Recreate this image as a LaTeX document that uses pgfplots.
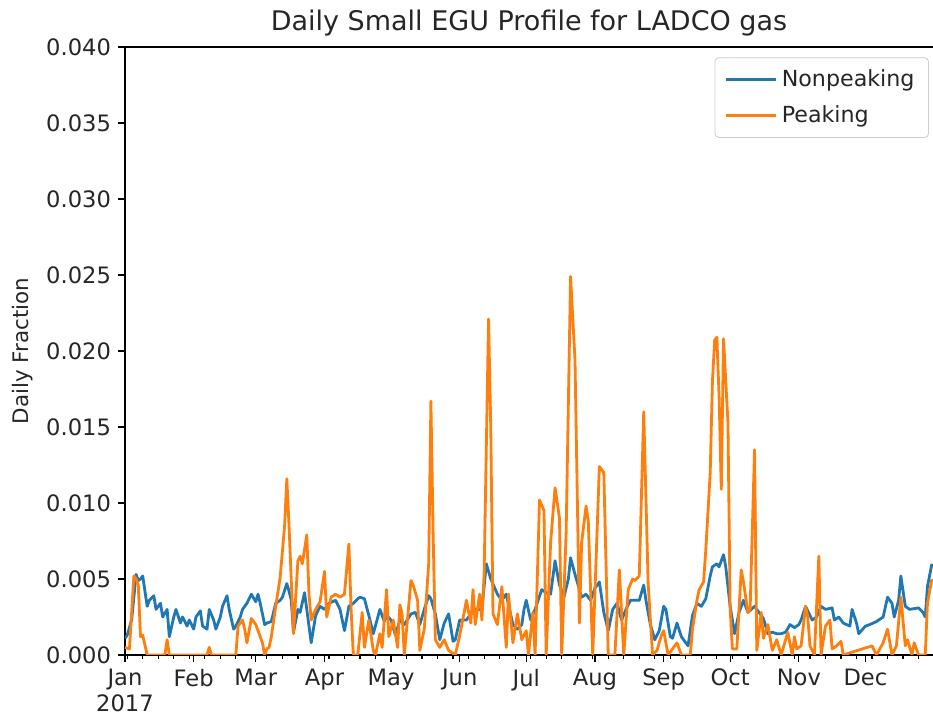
\documentclass[border=0pt]{standalone}
\usepackage{fontspec}
\setmainfont{DejaVu Sans}
\usepackage{pgfplots}
\usepackage{pgfplotstable}
\pgfplotsset{compat=1.18}

\definecolor{mplblue}{HTML}{1F77B4}
\definecolor{mplorange}{HTML}{FF7F0E}

% day of year (0 = Jan 1, 2017), daily fraction
\pgfplotstableread{
day val
0 0.0011
1 0.0013
3 0.0023
5 0.0053
6 0.0049
7 0.0050
8 0.0052
10 0.0032
11 0.0036
13 0.0039
14 0.0030
16 0.0034
17 0.0025
19 0.0030
20 0.0012
22 0.0025
23 0.0030
25 0.0021
26 0.0025
28 0.0019
29 0.0023
31 0.0017
32 0.0025
34 0.0029
35 0.0019
37 0.0017
38 0.0030
40 0.0023
41 0.0017
43 0.0025
44 0.0032
46 0.0039
47 0.0030
49 0.0017
50 0.0019
52 0.0025
53 0.0030
55 0.0034
57 0.0040
59 0.0035
60 0.0040
61 0.0034
63 0.0020
64 0.0021
66 0.0022
68 0.0034
70 0.0036
71 0.0038
73 0.0047
74 0.0042
75 0.0036
76 0.0015
78 0.0030
79 0.0028
81 0.0041
82 0.0030
84 0.0008
86 0.0026
88 0.0032
90 0.0030
92 0.0034
95 0.0036
97 0.0030
99 0.0016
101 0.0032
103 0.0034
105 0.0037
106 0.0038
108 0.0037
110 0.0026
112 0.0014
115 0.0030
117 0.0022
118 0.0026
120 0.0023
122 0.0013
124 0.0023
126 0.0020
129 0.0027
131 0.0028
133 0.0020
135 0.0030
137 0.0039
138 0.0037
140 0.0027
142 0.0010
144 0.0021
146 0.0027
148 0.0009
149 0.0010
151 0.0023
154 0.0023
156 0.0027
158 0.0030
161 0.0030
163 0.0060
165 0.0050
168 0.0040
170 0.0036
172 0.0040
173 0.0033
175 0.0020
177 0.0017
179 0.0020
180 0.0030
181 0.0036
183 0.0023
185 0.0030
188 0.0043
190 0.0041
192 0.0040
194 0.0062
196 0.0046
198 0.0038
200 0.0050
201 0.0064
203 0.0053
206 0.0038
208 0.0040
210 0.0036
212 0.0044
214 0.0048
216 0.0028
218 0.0016
220 0.0030
222 0.0034
224 0.0023
226 0.0030
228 0.0036
232 0.0036
234 0.0046
235 0.0036
237 0.0020
239 0.0010
241 0.0016
243 0.0032
244 0.0030
246 0.0012
247 0.0011
249 0.0021
251 0.0012
252 0.0010
254 0.0006
256 0.0026
258 0.0034
260 0.0032
262 0.0037
264 0.0052
265 0.0058
267 0.0060
268 0.0058
270 0.0066
271 0.0058
273 0.0032
275 0.0014
277 0.0028
279 0.0036
281 0.0028
284 0.0032
286 0.0028
288 0.0024
290 0.0014
292 0.0015
294 0.0014
296 0.0014
298 0.0015
300 0.0020
302 0.0018
304 0.0020
305 0.0023
307 0.0032
310 0.0023
312 0.0025
314 0.0032
316 0.0030
319 0.0031
320 0.0023
322 0.0025
324 0.0021
327 0.0019
328 0.0030
330 0.0021
331 0.0014
334 0.0019
336 0.0020
339 0.0022
342 0.0025
344 0.0038
346 0.0034
347 0.0025
349 0.0036
350 0.0052
352 0.0032
354 0.0030
358 0.0031
360 0.0028
361 0.0025
362 0.0045
364 0.0060
}\nonpeak

\pgfplotstableread{
day val
0 0.0005
2 0.0004
4 0.0052
5 0.0050
6 0.0046
7 0.0012
8 0.0013
10 0.0000
18 0.0000
19 0.0010
20 0.0000
37 0.0000
38 0.0005
39 0.0000
50 0.0000
51 0.0019
53 0.0023
54 0.0017
55 0.0008
57 0.0024
59 0.0020
61 0.0012
62 0.0008
63 0.0000
64 0.0004
65 0.0005
66 0.0012
68 0.0032
70 0.0051
72 0.0085
73 0.0116
74 0.0085
76 0.0014
78 0.0062
79 0.0065
80 0.0060
82 0.0079
83 0.0040
84 0.0023
86 0.0030
88 0.0035
90 0.0055
91 0.0025
93 0.0038
95 0.0040
97 0.0038
99 0.0040
101 0.0073
102 0.0030
103 0.0000
105 0.0000
107 0.0028
108 0.0005
110 0.0023
112 0.0003
113 0.0000
115 0.0014
116 0.0005
118 0.0043
119 0.0012
121 0.0023
123 0.0005
124 0.0033
125 0.0027
126 0.0000
129 0.0049
130 0.0046
132 0.0036
133 0.0003
135 0.0017
137 0.0060
138 0.0167
139 0.0080
140 0.0010
142 0.0005
144 0.0010
146 0.0003
149 0.0000
151 0.0013
153 0.0028
154 0.0036
156 0.0021
157 0.0043
158 0.0020
160 0.0040
161 0.0023
162 0.0053
164 0.0221
165 0.0150
166 0.0027
168 0.0020
170 0.0045
172 0.0005
173 0.0040
175 0.0008
177 0.0027
179 0.0010
181 0.0016
182 0.0000
184 0.0028
185 0.0000
187 0.0102
189 0.0095
190 0.0000
192 0.0074
194 0.0110
196 0.0090
197 0.0000
199 0.0080
201 0.0249
203 0.0194
205 0.0021
206 0.0074
208 0.0098
209 0.0088
211 0.0000
214 0.0124
216 0.0120
218 0.0000
221 0.0000
223 0.0056
225 0.0000
227 0.0043
229 0.0050
230 0.0049
232 0.0052
234 0.0160
236 0.0047
238 0.0000
240 0.0003
242 0.0013
243 0.0016
245 0.0000
248 0.0006
249 0.0008
251 0.0000
255 0.0000
256 0.0017
258 0.0036
259 0.0043
261 0.0048
262 0.0069
264 0.0120
265 0.0180
266 0.0207
267 0.0209
268 0.0170
269 0.0109
270 0.0208
272 0.0153
273 0.0030
274 0.0004
276 0.0004
278 0.0056
279 0.0048
281 0.0028
282 0.0030
284 0.0135
285 0.0003
287 0.0028
288 0.0011
290 0.0020
292 0.0003
294 0.0010
296 0.0000
299 0.0015
301 0.0000
302 0.0012
303 0.0004
305 0.0006
307 0.0032
308 0.0025
309 0.0006
311 0.0000
313 0.0065
314 0.0000
316 0.0019
318 0.0023
319 0.0004
321 0.0006
323 0.0009
324 0.0000
337 0.0006
339 0.0000
342 0.0008
344 0.0017
346 0.0000
348 0.0006
350 0.0038
352 0.0006
353 0.0010
355 0.0000
356 0.0008
358 0.0000
361 0.0000
362 0.0034
364 0.0050
}\peak

\begin{document}
\begin{tikzpicture}
\begin{axis}[
  scale only axis, width=404pt, height=304pt,
  xmin=0, xmax=364.5, ymin=0, ymax=0.04,
  axis y line*=left,
  xtick pos=left, ytick pos=left,
  tick align=outside,
  major tick length=3.5pt, minor tick length=2pt,
  every tick/.style={black, line width=0.6pt},
  axis line style={line width=0.6pt},
  xtick={0,31,59,90,120,151,181,212,243,273,304,334},
  xticklabels={{Jan\\2017},Feb,Mar,Apr,May,Jun,Jul,Aug,Sep,Oct,Nov,Dec},
  xticklabel style={align=center, font=\fontsize{11.3}{12.8}\selectfont, text=black!85},
  minor xtick={1,8,...,358},
  ytick={0,0.005,...,0.0401},
  scaled y ticks=false,
  yticklabel style={/pgf/number format/fixed, /pgf/number format/fixed zerofill,
    /pgf/number format/precision=3, /pgf/number format/assume math mode=true,
    font=\fontsize{11.3}{12.5}\selectfont, text=black!85},
  ylabel={Daily Fraction},
  ylabel style={font=\fontsize{10.7}{12}\selectfont, text=black!85},
  title={Daily Small EGU Profile for LADCO gas},
  title style={font=\fontsize{13.5}{15}\selectfont, text=black!85, yshift=-4pt},
  legend style={at={(rel axis cs:0.995,0.983)}, anchor=north east,
    draw=black!20, rounded corners=2pt, fill=white, fill opacity=0.8, text opacity=1,
    font=\fontsize{11.1}{12.5}\selectfont, text=black!85,
    inner xsep=5pt, inner ysep=4pt, row sep=4pt},
  legend cell align=left,
  legend image code/.code={\draw[#1] (0pt,0pt) -- (25pt,0pt);},
  every axis plot/.append style={line width=1.4pt, line join=round},
]
\addplot[mplblue] table[x=day, y=val] {\nonpeak};
\addlegendentry{Nonpeaking}
\addplot[mplorange] table[x=day, y=val] {\peak};
\addlegendentry{Peaking}
\coordinate (bl) at (rel axis cs:0,0);
\coordinate (tr) at (rel axis cs:1,1);
\end{axis}
\pgfresetboundingbox
\useasboundingbox ([xshift=-62.5pt,yshift=-32pt]bl) rectangle ([yshift=23.5pt]tr);
\end{tikzpicture}
\end{document}
